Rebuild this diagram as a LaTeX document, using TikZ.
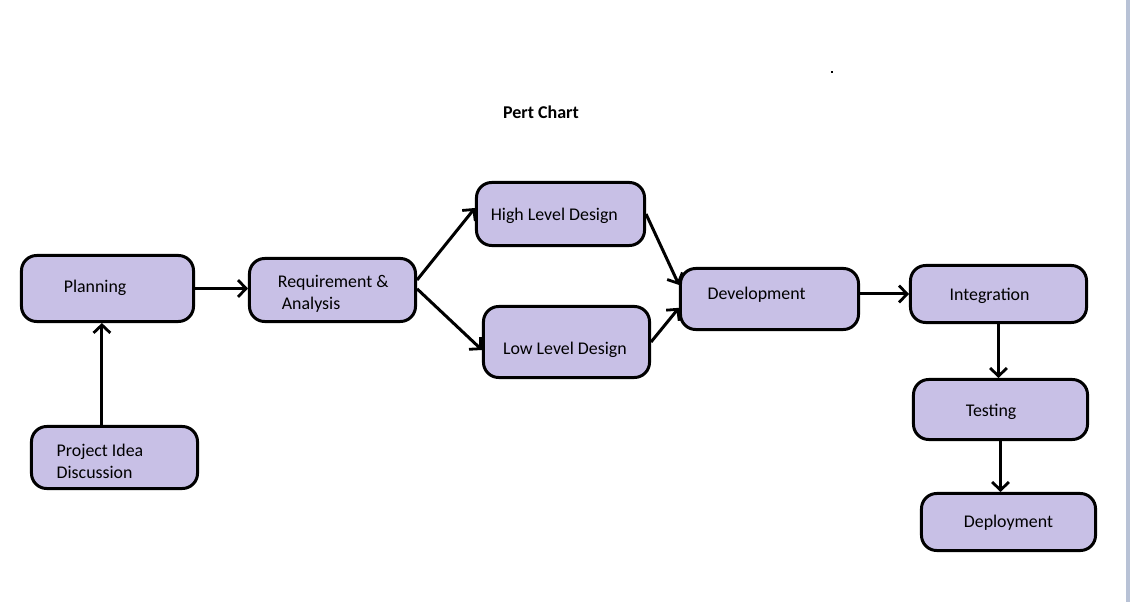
\documentclass[tikz,border=0pt]{standalone}
\usepackage{fontspec}
\setmainfont{Carlito}
\usetikzlibrary{arrows.meta}
\definecolor{pertfill}{RGB}{200,192,230}
\definecolor{edgebar}{RGB}{184,194,214}

\begin{document}
\begin{tikzpicture}[
		x=0.025cm, y=-0.025cm,
		task/.style={draw, fill=pertfill, line width=0.075cm, rounded corners=0.38cm, inner sep=0pt},
		tasktext/.style={anchor=west, inner sep=0pt, align=left, font=\fontsize{12.7}{15.8}\selectfont},
		flow/.style={line width=0.075cm, -{Straight Barb[length=0.2cm, width=0.42cm, line width=0.07cm]}},
	]
		\useasboundingbox (0,0) rectangle (1130,602);
		\fill[edgebar] (1126,0) rectangle (1130,602);
		\fill (831,71) rectangle (833,73);

		\node[font=\bfseries\fontsize{12.8}{14}\selectfont] (title) at (541,112) {Pert Chart};

		\node[task, minimum width=4.3cm, minimum height=1.65cm, label={[tasktext, xshift=1.09cm, yshift=0.01cm]west:Planning}] (plan) at (107.5,288.5) {};
		\node[task, minimum width=4.15cm, minimum height=1.575cm, label={[tasktext, xshift=0.74cm, yshift=-0.1cm]west:Requirement \&\\\ Analysis}] (req) at (332.5,290) {};
		\node[task, minimum width=4.2cm, minimum height=1.575cm, label={[tasktext, xshift=0.39cm, yshift=-0.05cm]west:High Level Design}] (hld) at (560.5,214) {};
		\node[task, minimum width=4.15cm, minimum height=1.775cm, label={[tasktext, xshift=0.52cm, yshift=-0.2cm]west:Low Level Design}] (lld) at (566.5,342) {};
		\node[task, minimum width=4.45cm, minimum height=1.525cm, label={[tasktext, xshift=0.71cm, yshift=0.1cm]west:Development}] (dev) at (769.5,299) {};
		\node[task, minimum width=4.4cm, minimum height=1.425cm, label={[tasktext, xshift=1.01cm, yshift=-0.05cm]west:Integration}] (integ) at (998.5,294) {};
		\node[task, minimum width=4.35cm, minimum height=1.5cm, label={[tasktext, xshift=1.34cm, yshift=-0.05cm]west:Testing}] (test) at (1000.5,409.5) {};
		\node[task, minimum width=4.35cm, minimum height=1.425cm, label={[tasktext, xshift=1.09cm, yshift=-0.02cm]west:Deployment}] (deploy) at (1008.5,522) {};
		\node[task, minimum width=4.15cm, minimum height=1.55cm, label={[tasktext, xshift=0.66cm, yshift=-0.1cm]west:Project Idea\\Discussion}] (idea) at (114.5,457.5) {};

		\draw[flow] ([xshift=-0.14cm]plan.south |- idea.north) -- ([xshift=-0.14cm]plan.south);
		\draw[flow] (plan.east) -- (plan.east -| req.west);
		\draw[flow] ([yshift=0.25cm]req.east) -- ([yshift=0.15cm]hld.west);
		\draw[flow] ([yshift=0.03cm]req.east) -- ([yshift=-0.2cm]lld.west);
		\draw[flow] (hld.east) -- ([yshift=0.35cm]dev.west);
		\draw[flow] (lld.east) -- ([yshift=-0.22cm]dev.west);
		\draw[flow] (dev.east |- integ.west) -- (integ.west);
		\draw[flow] (integ.south) -- (integ.south |- test.north);
		\draw[flow] (test.south) -- (test.south |- deploy.north);
	\end{tikzpicture}
\end{document}
